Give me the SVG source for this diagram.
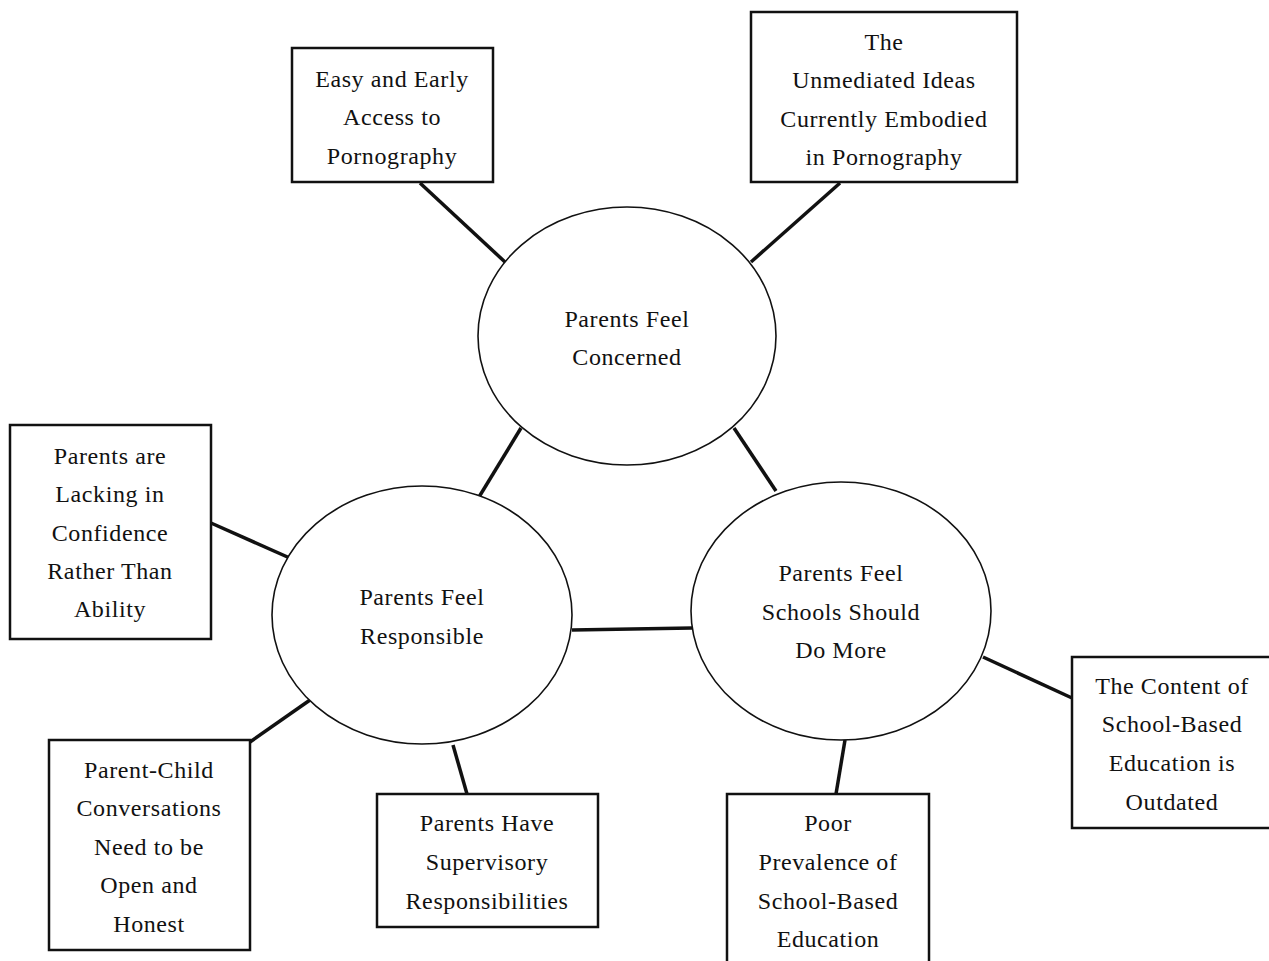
<svg xmlns="http://www.w3.org/2000/svg" width="1269" height="961" viewBox="0 0 1269 961">
<style>
.box{fill:#fff;stroke:#111;stroke-width:2.5}
.ell{fill:#fff;stroke:#111;stroke-width:1.6}
.con line{stroke:#111;stroke-width:3.5}
text{font-family:"Liberation Serif","DejaVu Serif",serif;font-size:24px;letter-spacing:0.6px;fill:#111;text-anchor:middle;dominant-baseline:central}
</style>
<rect width="1269" height="961" fill="#fff"/>
<g id="connectors" class="con">
<line x1="420" y1="183" x2="505" y2="262"/>
<line x1="840" y1="183" x2="751" y2="262"/>
<line x1="521" y1="428" x2="479" y2="497"/>
<line x1="734" y1="428" x2="776" y2="491"/>
<line x1="572" y1="630" x2="692" y2="628"/>
<line x1="211" y1="523" x2="292" y2="559"/>
<line x1="250" y1="742" x2="310" y2="700"/>
<line x1="453" y1="745" x2="467" y2="794"/>
<line x1="845" y1="740" x2="836" y2="794"/>
<line x1="983" y1="657" x2="1072" y2="698"/>
</g>
<g id="concerned">
<ellipse class="ell" cx="627" cy="336" rx="149" ry="129"/>
<text x="627" y="319">Parents Feel</text>
<text x="627" y="357">Concerned</text>
</g>
<g id="responsible">
<ellipse class="ell" cx="422" cy="615" rx="150" ry="129"/>
<text x="422" y="597">Parents Feel</text>
<text x="422" y="636">Responsible</text>
</g>
<g id="schools">
<ellipse class="ell" cx="841" cy="611" rx="150" ry="129"/>
<text x="841" y="573">Parents Feel</text>
<text x="841" y="612">Schools Should</text>
<text x="841" y="650">Do More</text>
</g>
<g id="easy">
<rect class="box" x="292" y="48" width="201" height="134"/>
<text x="392" y="79">Easy and Early</text>
<text x="392" y="117">Access to</text>
<text x="392" y="156">Pornography</text>
</g>
<g id="unmediated">
<rect class="box" x="751" y="12" width="266" height="170"/>
<text x="884" y="42">The</text>
<text x="884" y="80">Unmediated Ideas</text>
<text x="884" y="119">Currently Embodied</text>
<text x="884" y="157">in Pornography</text>
</g>
<g id="lacking">
<rect class="box" x="10" y="425" width="201" height="214"/>
<text x="110" y="456">Parents are</text>
<text x="110" y="494">Lacking in</text>
<text x="110" y="533">Confidence</text>
<text x="110" y="571">Rather Than</text>
<text x="110" y="609">Ability</text>
</g>
<g id="conversations">
<rect class="box" x="49" y="740" width="201" height="210"/>
<text x="149" y="770">Parent-Child</text>
<text x="149" y="808">Conversations</text>
<text x="149" y="847">Need to be</text>
<text x="149" y="885">Open and</text>
<text x="149" y="924">Honest</text>
</g>
<g id="supervisory">
<rect class="box" x="377" y="794" width="221" height="133"/>
<text x="487" y="823">Parents Have</text>
<text x="487" y="862">Supervisory</text>
<text x="487" y="901">Responsibilities</text>
</g>
<g id="prevalence">
<rect class="box" x="727" y="794" width="202" height="180"/>
<text x="828" y="823">Poor</text>
<text x="828" y="862">Prevalence of</text>
<text x="828" y="901">School-Based</text>
<text x="828" y="939">Education</text>
</g>
<g id="content">
<rect class="box" x="1072" y="657" width="210" height="171"/>
<text x="1172" y="686">The Content of</text>
<text x="1172" y="724">School-Based</text>
<text x="1172" y="763">Education is</text>
<text x="1172" y="802">Outdated</text>
</g>
</svg>
